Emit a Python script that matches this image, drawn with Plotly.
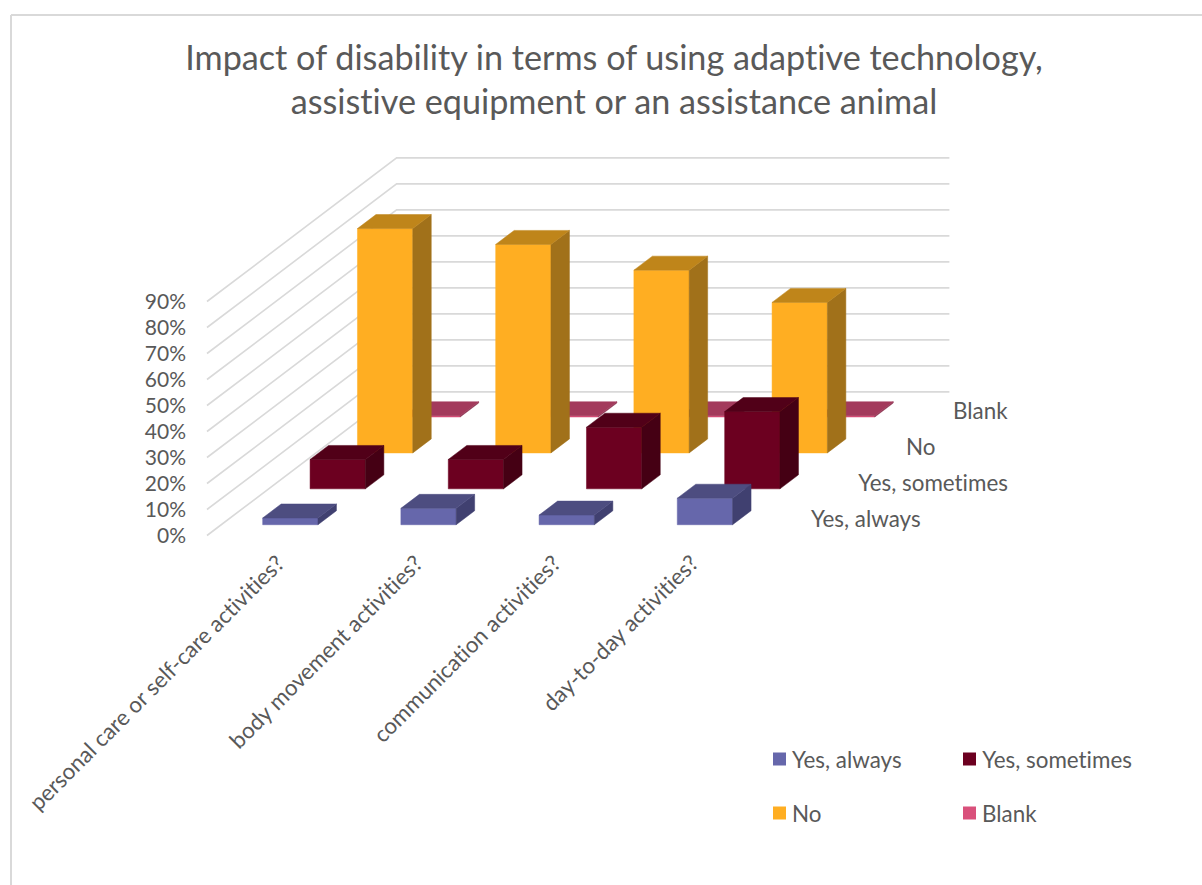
import plotly.graph_objects as go

# ---- data ----
categories = ["personal care or self-care activities?", "body movement activities?",
              "communication activities?", "day-to-day activities?"]
series_names = ["Yes, always", "Yes, sometimes", "No", "Blank"]
yes_always = [2.6, 6.3, 3.7, 10.2]
yes_sometimes = [11.3, 11.3, 23.7, 29.7]
no_answer = [86.3, 80.2, 70.3, 57.9]
blank = [0.5, 0.5, 0.5, 0.5]
series_values = [yes_always, yes_sometimes, no_answer, blank]
tick_values = list(range(0, 100, 10))
tick_labels = [f"{v}%" for v in tick_values]
title_lines = ["Impact of disability in terms of using adaptive technology,",
               "assistive equipment or an assistance animal"]

# ---- style ----
TEXT = "#595959"
FONT = "Lato"
GRID = "#D9D9D9"
front_colors = ["#6667AB", "#6C0020", "#FFAE22", "#D9507B"]
top_colors = ["#4D4D80", "#510018", "#BF851A", "#A33A5C"]
side_colors = ["#404070", "#450014", "#A1711A", "#8C3350"]

# ---- oblique projection of the 3-D box onto the plot ----
W, H = 1202, 885
X0, CAT_STEP, SER_DX = 207.0, 138.2, 47.4
Y0, PX_PER_PCT, SER_DY = 535.5, 2.6, 35.9
N_CAT, N_SER = len(categories), len(series_names)
BAR_U0, BAR_U1 = 0.30, 0.70   # bar extent inside its category cell
BAR_S0, BAR_S1 = 0.30, 0.69   # bar extent inside its series cell


def project(u, s, v):
    """category position u, series depth s, value v -> plot x, y axis value"""
    return X0 + CAT_STEP * u + SER_DX * s, v + s * SER_DY / PX_PER_PCT


def poly(points):
    xs, ys = zip(*[project(*p) for p in points])
    return list(xs) + [xs[0], None], list(ys) + [ys[0], None]


fig = go.Figure()

# walls' gridlines
for v in tick_values:
    xs, ys = zip(*[project(0, 0, v), project(0, N_SER, v), project(N_CAT, N_SER, v)])
    fig.add_trace(go.Scatter(x=xs, y=ys, mode="lines", line=dict(color=GRID, width=1.6),
                             hoverinfo="skip", showlegend=False))

# bars, back series first
for si in reversed(range(N_SER)):
    faces = {"front": ([], []), "side": ([], []), "top": ([], [])}
    for ci, val in enumerate(series_values[si]):
        u0, u1 = ci + BAR_U0, ci + BAR_U1
        s0, s1 = si + BAR_S0, si + BAR_S1
        for key, pts in (
            ("front", [(u0, s0, 0), (u1, s0, 0), (u1, s0, val), (u0, s0, val)]),
            ("side", [(u1, s0, 0), (u1, s1, 0), (u1, s1, val), (u1, s0, val)]),
            ("top", [(u0, s0, val), (u1, s0, val), (u1, s1, val), (u0, s1, val)]),
        ):
            a, b = poly(pts)
            faces[key][0].extend(a)
            faces[key][1].extend(b)
    for key, colors in (("front", front_colors), ("side", side_colors), ("top", top_colors)):
        fig.add_trace(go.Scatter(x=faces[key][0], y=faces[key][1], mode="lines", fill="toself",
                                 fillcolor=colors[si], line=dict(color=colors[si], width=0.5),
                                 name=series_names[si], hoverinfo="skip", showlegend=False))

annotations = []
shapes = []


def py(pixel_y):
    return (Y0 - pixel_y) / PX_PER_PCT


# category labels
for ci, cat in enumerate(categories):
    x, _ = project(ci + 0.5, 0, 0)
    annotations.append(dict(x=x + 16, y=py(546), text=cat, textangle=-45, showarrow=False,
                            xanchor="right", yanchor="top", font=dict(family=FONT, size=22.4, color=TEXT)))

# series labels along the depth axis
for si, name in enumerate(series_names):
    x, y = project(N_CAT, si, 6.7)
    annotations.append(dict(x=x + 49, y=y, text=name, showarrow=False, xanchor="left", yanchor="middle",
                            font=dict(family=FONT, size=22.4, color=TEXT)))

# legend
legend_pos = [(773, 759), (963, 759), (773, 813), (963, 813)]
for si, name in enumerate(series_names):
    lx, ly = legend_pos[si]
    shapes.append(dict(type="rect", x0=lx, x1=lx + 13, y0=py(ly - 6.5), y1=py(ly + 6.5),
                       fillcolor=front_colors[si], line=dict(width=0)))
    annotations.append(dict(x=lx + 17, y=py(ly), text=name, showarrow=False, xanchor="left", yanchor="middle",
                            font=dict(family=FONT, size=22.4, color=TEXT)))

# chart frame (top and left edges visible in the crop)
frame = dict(color="#D9D9D9", width=2)
shapes.append(dict(type="line", x0=11, x1=W, y0=py(15), y1=py(15), line=frame))
shapes.append(dict(type="line", x0=11, x1=11, y0=py(15), y1=py(H), line=frame))

fig.update_layout(
    width=W, height=H, margin=dict(l=0, r=0, t=0, b=0),
    paper_bgcolor="white", plot_bgcolor="white", showlegend=False,
    title=dict(text="<br>".join(title_lines), x=614 / W, y=1 - 70 / H, xanchor="center", yanchor="middle",
               font=dict(family=FONT, size=34.2, color=TEXT)),
    xaxis=dict(range=[0, W], visible=False, fixedrange=True),
    yaxis=dict(range=[py(H), py(0)], anchor="free", position=186 / W, tickmode="array",
               tickvals=tick_values, ticktext=tick_labels, showgrid=False, zeroline=False,
               showline=False, ticks="", tickfont=dict(family=FONT, size=21, color=TEXT), fixedrange=True),
    annotations=annotations, shapes=shapes,
)

post = ("document.body.style.margin='0';document.body.style.overflow='hidden';"
        "var st=document.createElement('style');"
        "st.textContent='svg text{font-variant-ligatures:none !important;}';"
        "document.head.appendChild(st);")
fig.write_html("out.html", config=dict(displayModeBar=False), post_script=post)
